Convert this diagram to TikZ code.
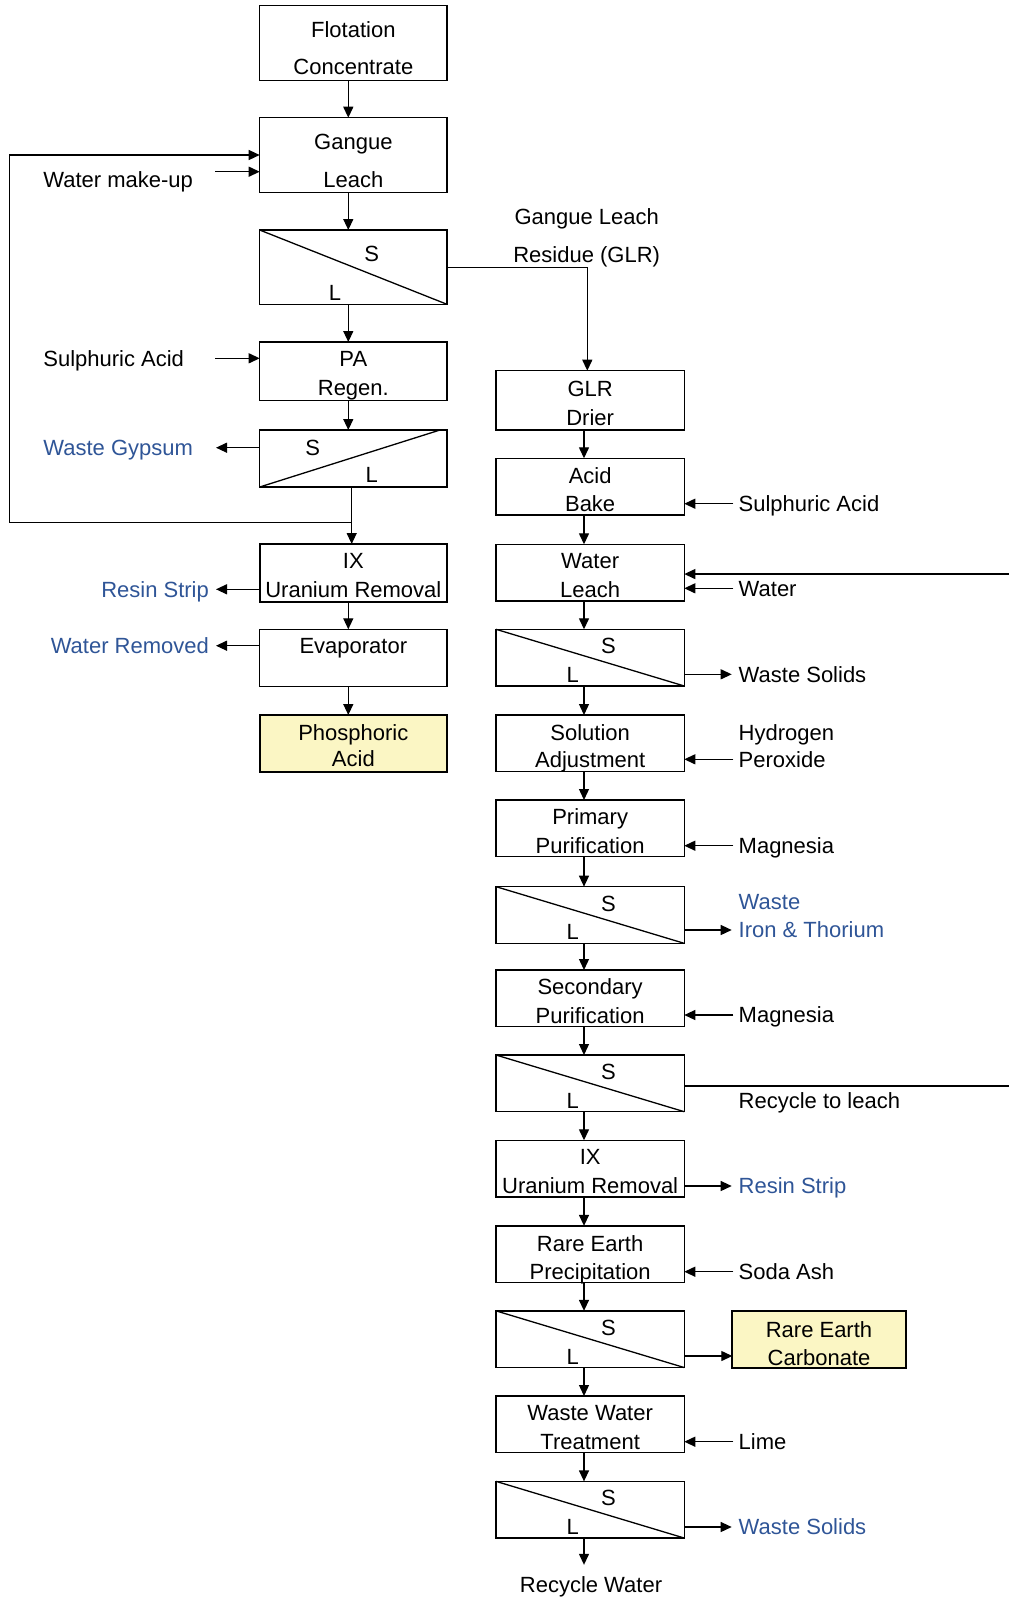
\documentclass[tikz,border=0pt]{standalone}
\usepackage{fontspec}
\setmainfont{Liberation Sans}
\usetikzlibrary{arrows.meta,calc}
\definecolor{wblue}{RGB}{47,85,151}
\definecolor{pyel}{RGB}{251,246,196}
\newcommand\twoc[3]{\begin{tabular}[b]{@{}c@{}}#2\\[\dimexpr#1-13pt\relax]#3\end{tabular}}
\newcommand\twol[3]{\begin{tabular}[b]{@{}l@{}}#2\\[\dimexpr#1-13pt\relax]#3\end{tabular}}
\tikzset{
  box/.style={draw, line width=0.7pt, inner sep=0pt, outer sep=0pt, text depth=0pt},
  lbox/.style={box, minimum width=93.65pt},
  rbox/.style={box, minimum width=94.15pt, minimum height=28.35pt, text height=24.9pt},
  lab/.style={inner sep=0pt, text height=7.8pt, text depth=0pt},
  wlab/.style={lab, text=wblue},
  arr/.style={line width=0.65pt, -{Triangle[length=5.5pt,width=5pt]}},
  ln/.style={line width=0.65pt},
}
\newcommand\mksepR[2]{%
  \node[rbox] (#1) at (590.15,#2) {};
  \draw[ln] (#1.north west) -- (#1.south east);
  \node[lab] (#1S) at ($(#1.center)+(9.1pt,5.8pt)$) {S};
  \node[lab] (#1L) at ($(#1.center)+(-8.7pt,-8.5pt)$) {L};}
\begin{document}
\begin{tikzpicture}[x=0.5pt,y=-0.5pt,font=\fontsize{11pt}{13pt}\selectfont]
\useasboundingbox (0,0) rectangle (1008,1597);
\coordinate (colL) at (348.3,0);
\coordinate (colL2) at (351.7,0);
\coordinate (colR) at (584,0);
\coordinate (glrx) at (587.3,0);

% ---------- left column ----------
\node[lbox, minimum height=37.5pt, text height=31.7pt] (flot) at (353.35,42.8) {\twoc{18.7pt}{Flotation}{Concentrate}};
\node[lbox, minimum height=37.3pt, text height=32.8pt] (gang) at (353.35,155) {\twoc{19.15pt}{Gangue}{Leach}};
\node[lbox, minimum height=37.15pt] (sep1) at (353.35,267.15) {};
\draw[ln] (sep1.north west) -- (sep1.south east);
\node[lab] (sep1S) at ($(sep1.center)+(9.2pt,6.6pt)$) {S};
\node[lab] (sep1L) at ($(sep1.center)+(-9.2pt,-12.8pt)$) {L};
\node[lbox, minimum height=29.15pt, text height=24.65pt] (pa) at (353.35,371.15) {\twoc{14.5pt}{PA}{Regen.}};
\node[lbox, minimum height=28.5pt] (sep2) at (353.35,458.5) {};
\draw[ln] (sep2.south west) -- ($(sep2.north east)+(-3.5pt,0)$);
\node[lab] (sep2S) at ($(sep2.center)+(-20.3pt,5.6pt)$) {S};
\node[lab] (sep2L) at ($(sep2.center)+(9.2pt,-8.25pt)$) {L};
\node[lbox, line width=1.1pt, minimum height=28.85pt, text height=24.25pt] (ixl) at (353.35,572.85) {\twoc{14.3pt}{IX}{Uranium Removal}};
\node[lbox, minimum height=28.7pt, text height=24.3pt] (evap) at (353.35,658) {\twoc{14.25pt}{Evaporator}{\mbox{}}};
\node[lbox, fill=pyel, line width=0.85pt, minimum height=28.35pt, text height=23.15pt] (phos) at (353.35,743.35) {\twoc{13.2pt}{Phosphoric}{Acid}};

% left labels
\node[lab, anchor=west] (lwmu) at (43,180) {Water make-up};
\node[lab, anchor=west] (lsaL) at (43,358.3) {Sulphuric Acid};
\node[wlab, anchor=west] (lgyp) at (43,447.7) {Waste Gypsum};
\node[wlab, anchor=east] (lrsL) at (209.3,589.3) {Resin Strip};
\node[wlab, anchor=east] (lwr) at (209.3,645.7) {Water Removed};

% ---------- right column ----------
\node[rbox, minimum height=29.65pt, text height=24.75pt] (glr) at (590.15,400.35) {\twoc{14.5pt}{GLR}{Drier}};
\node[rbox] (bake) at (590.15,486.65) {\twoc{14.2pt}{Acid}{Bake}};
\node[rbox] (wleach) at (590.15,572.65) {\twoc{14.35pt}{Water}{Leach}};
\mksepR{sep3}{657.65}
\node[rbox, text height=23.75pt] (sol) at (590.15,743.35) {\twoc{13.5pt}{Solution}{Adjustment}};
\node[rbox] (prim) at (590.15,828.35) {\twoc{14.2pt}{Primary}{Purification}};
\mksepR{sep4}{915}
\node[rbox] (sec) at (590.15,998.35) {\twoc{14.15pt}{Secondary}{Purification}};
\mksepR{sep5}{1083.35}
\node[rbox] (ixr) at (590.15,1168.65) {\twoc{14.35pt}{IX}{Uranium Removal}};
\node[rbox, text height=25.3pt] (rep) at (590.15,1254.2) {\twoc{13.85pt}{Rare Earth}{Precipitation}};
\mksepR{sep6}{1339.2}
\node[rbox] (wwt) at (590.15,1424.35) {\twoc{14.2pt}{Waste Water}{Treatment}};
\mksepR{sep7}{1509.7}
\node[box, fill=pyel, line width=1.1pt, minimum width=86.7pt, minimum height=28.5pt, text height=26.3pt] (rec) at (819,1339.2) {\twoc{14.2pt}{Rare Earth}{Carbonate}};

% right labels
\node[inner sep=0pt, text height=26.6pt, text depth=0pt] (lglr) at (586.7,235.5) {\twoc{18.8pt}{Gangue Leach}{Residue (GLR)}};
\node[lab, anchor=west] (lsaR) at (738.3,503.7) {Sulphuric Acid};
\node[lab, anchor=west] (lwat) at (738.3,588.3) {Water};
\node[lab, anchor=west] (lws1) at (738.3,674.3) {Waste Solids};
\node[inner sep=0pt, text height=21.3pt, text depth=0pt, anchor=base west] (lhp) at (738.3,767.1) {\twol{13.5pt}{Hydrogen}{Peroxide}};
\node[lab, anchor=west] (lmg1) at (738.3,845.7) {Magnesia};
\node[inner sep=0pt, text height=21.8pt, text depth=0pt, anchor=base west, text=wblue] (lfe) at (738.3,937.8) {\twol{14pt}{Waste}{Iron \& Thorium}};
\node[lab, anchor=west] (lmg2) at (738.3,1015) {Magnesia};
\node[lab, anchor=west] (lrtl) at (738.3,1101) {Recycle to leach};
\node[wlab, anchor=west] (lrsR) at (738.3,1186) {Resin Strip};
\node[lab, anchor=west] (lsoda) at (738.3,1271.7) {Soda Ash};
\node[lab, anchor=west] (llime) at (738.3,1441.7) {Lime};
\node[wlab, anchor=west] (lws2) at (738.3,1527) {Waste Solids};
\node[lab] (lrw) at (591,1585) {Recycle Water};

% ---------- left connectors ----------
\draw[arr] (flot.south -| colL) -- (gang.north -| colL);
\draw[arr] (gang.south -| colL) -- (sep1.north -| colL);
\draw[arr] (sep1.south -| colL) -- (pa.north -| colL);
\draw[arr] (pa.south -| colL) -- (sep2.north -| colL);
\draw[arr] (sep2.south -| colL2) -- (ixl.north -| colL2);
\draw[arr] (ixl.south -| colL) -- (evap.north -| colL);
\draw[arr] (evap.south -| colL) -- (phos.north -| colL);
\coordinate (rcJ) at (351.7,522.7);
\coordinate (rcA) at (9.3,522.7);
\draw[arr] (rcJ) -- (rcA) |- (gang.west);
\draw[arr] ($(gang.west)+(-22.35pt,-8.35pt)$) -- ($(gang.west)+(0,-8.35pt)$);
\draw[arr] ($(lsaL.west -| pa.west)+(-22.35pt,0)$) -- (lsaL.west -| pa.west);
\draw[arr] (lgyp.west -| sep2.west) -- ++(-21.85pt,0);
\draw[arr] (lrsL.west -| ixl.west) -- ++(-21.85pt,0);
\draw[arr] (lwr.west -| evap.west) -- ++(-21.85pt,0);
\draw[arr] (sep1.east) -| (glr.north -| glrx);

% ---------- right connectors ----------
\foreach \a/\b in {glr/bake, bake/wleach, wleach/sep3, sep3/sol, sol/prim, prim/sep4, sep4/sec, sec/sep5, sep5/ixr, ixr/rep, rep/sep6, sep6/wwt, wwt/sep7}
  \draw[arr] (\a.south -| colR) -- (\b.north -| colR);
\draw[arr] (sep7.south -| colR) -- ($(lrw.north -| colR)+(0,6pt)$);

\draw[arr] ($(lsaR.west)+(-2.5pt,0)$) -- (lsaR.west -| bake.east);
\draw[arr] ($(lwat.west)+(-2.5pt,0)$) -- (lwat.west -| wleach.east);
\draw[arr] (lws1.west -| sep3.east) -- ($(lws1.west)+(-3.3pt,0)$);
\coordinate (hpA) at ($(lhp.base west)+(-2.5pt,3.9pt)$);
\draw[arr] (hpA) -- (hpA -| sol.east);
\draw[arr] ($(lmg1.west)+(-2.5pt,0)$) -- (lmg1.west -| prim.east);
\coordinate (feA) at ($(lfe.base west)+(-3.3pt,3.9pt)$);
\draw[arr] (feA -| sep4.east) -- (feA);
\draw[arr] ($(lmg2.west)+(-2.5pt,0)$) -- (lmg2.west -| sec.east);
\draw[arr] ($(sep5.east)+(0,-1.3pt)$) -- ++(164pt,0) |- ($(wleach.east)+(0,-0.7pt)$);
\draw[arr] (lrsR.west -| ixr.east) -- ($(lrsR.west)+(-3.3pt,0)$);
\draw[arr] ($(lsoda.west)+(-2.5pt,0)$) -- (lsoda.west -| rep.east);
\draw[arr] ($(sep6.east)+(0,-8.4pt)$) -- ($(rec.west)+(0,-8.4pt)$);
\draw[arr] ($(llime.west)+(-2.5pt,0)$) -- (llime.west -| wwt.east);
\draw[arr] (lws2.west -| sep7.east) -- ($(lws2.west)+(-3.3pt,0)$);
\end{tikzpicture}
\end{document}
